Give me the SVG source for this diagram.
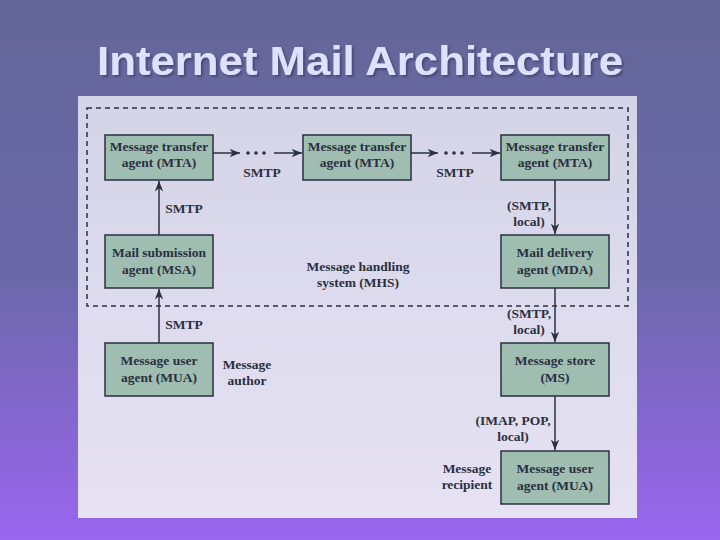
<svg xmlns="http://www.w3.org/2000/svg" width="720" height="540" viewBox="0 0 720 540">
<defs>
<linearGradient id="bg" x1="0" y1="0" x2="0" y2="1"><stop offset="0" stop-color="#646799"/><stop offset="0.5" stop-color="#6a68a8"/><stop offset="1" stop-color="#9a66f0"/></linearGradient>
<linearGradient id="pn" x1="0" y1="0" x2="0" y2="1"><stop offset="0" stop-color="#d4d4e6"/><stop offset="1" stop-color="#e6e2f4"/></linearGradient>
<filter id="sh" x="-5%" y="-20%" width="110%" height="140%"><feDropShadow dx="2" dy="2" stdDeviation="0.8" flood-color="#3a3c66" flood-opacity="0.7"/></filter>
<marker id="ah" viewBox="0 0 10 10" refX="10" refY="5" markerWidth="7" markerHeight="7" orient="auto"><path d="M0,1 L10,5 L0,9 L3,5 z" fill="#2a3040"/></marker>
</defs>
<style>
.box{fill:#9fbdb1;stroke:#2a3040;stroke-width:1.5}
.t{font-family:"Liberation Serif",serif;font-weight:bold;font-size:13.5px;fill:#2a3040;text-anchor:middle}
.c{stroke:#2a3040;stroke-width:1.5;fill:none;marker-end:url(#ah)}
</style>
<rect width="720" height="540" fill="url(#bg)"/>
<text x="360" y="75" font-family="Liberation Sans,Arial,sans-serif" font-weight="bold" font-size="41" fill="#e0e0ff" text-anchor="middle" textLength="526" lengthAdjust="spacingAndGlyphs" filter="url(#sh)">Internet Mail Architecture</text>
<rect x="78" y="96" width="559" height="422" fill="url(#pn)"/>
<rect x="87" y="108" width="541" height="198" fill="none" stroke="#2a3040" stroke-width="1.5" stroke-dasharray="5,4"/>
<g id="connectors">
<line class="c" x1="213" y1="153" x2="240" y2="153"/>
<line class="c" x1="274" y1="153" x2="302" y2="153"/>
<line class="c" x1="411" y1="153" x2="438" y2="153"/>
<line class="c" x1="472" y1="153" x2="500" y2="153"/>
<g fill="#2a3040"><circle cx="248" cy="153" r="1.8"/><circle cx="256" cy="153" r="1.8"/><circle cx="264" cy="153" r="1.8"/><circle cx="446" cy="153" r="1.8"/><circle cx="454" cy="153" r="1.8"/><circle cx="462" cy="153" r="1.8"/></g>
<line class="c" x1="159" y1="235" x2="159" y2="181"/>
<line class="c" x1="159" y1="343" x2="159" y2="289"/>
<line class="c" x1="555" y1="180" x2="555" y2="234"/>
<line class="c" x1="555" y1="288" x2="555" y2="342"/>
<line class="c" x1="555" y1="396" x2="555" y2="450"/>
<text class="t" x="262" y="177">SMTP</text>
<text class="t" x="455" y="177">SMTP</text>
<text class="t" x="184" y="213">SMTP</text>
<text class="t" x="184" y="329">SMTP</text>
<text class="t" x="529" y="210">(SMTP,</text><text class="t" x="529" y="226">local)</text>
<text class="t" x="529" y="318">(SMTP,</text><text class="t" x="529" y="334">local)</text>
<text class="t" x="513" y="425">(IMAP, POP,</text><text class="t" x="513" y="441">local)</text>
</g>
<text class="t" x="358" y="271">Message handling</text><text class="t" x="358" y="287">system (MHS)</text>
<text class="t" x="247" y="369">Message</text><text class="t" x="247" y="385">author</text>
<text class="t" x="467" y="473">Message</text><text class="t" x="467" y="489">recipient</text>
<g id="mta1"><rect class="box" x="105" y="135" width="108" height="45"/><text class="t" x="159" y="151">Message transfer</text><text class="t" x="159" y="167">agent (MTA)</text></g>
<g id="mta2"><rect class="box" x="303" y="135" width="108" height="45"/><text class="t" x="357" y="151">Message transfer</text><text class="t" x="357" y="167">agent (MTA)</text></g>
<g id="mta3"><rect class="box" x="501" y="135" width="108" height="45"/><text class="t" x="555" y="151">Message transfer</text><text class="t" x="555" y="167">agent (MTA)</text></g>
<g id="msa"><rect class="box" x="105" y="235" width="108" height="53"/><text class="t" x="159" y="257">Mail submission</text><text class="t" x="159" y="274">agent (MSA)</text></g>
<g id="mda"><rect class="box" x="501" y="235" width="108" height="53"/><text class="t" x="555" y="257">Mail delivery</text><text class="t" x="555" y="274">agent (MDA)</text></g>
<g id="mua1"><rect class="box" x="105" y="343" width="108" height="53"/><text class="t" x="159" y="365">Message user</text><text class="t" x="159" y="382">agent (MUA)</text></g>
<g id="ms"><rect class="box" x="501" y="343" width="108" height="53"/><text class="t" x="555" y="365">Message store</text><text class="t" x="555" y="382">(MS)</text></g>
<g id="mua2"><rect class="box" x="501" y="451" width="108" height="53"/><text class="t" x="555" y="473">Message user</text><text class="t" x="555" y="490">agent (MUA)</text></g>
</svg>
